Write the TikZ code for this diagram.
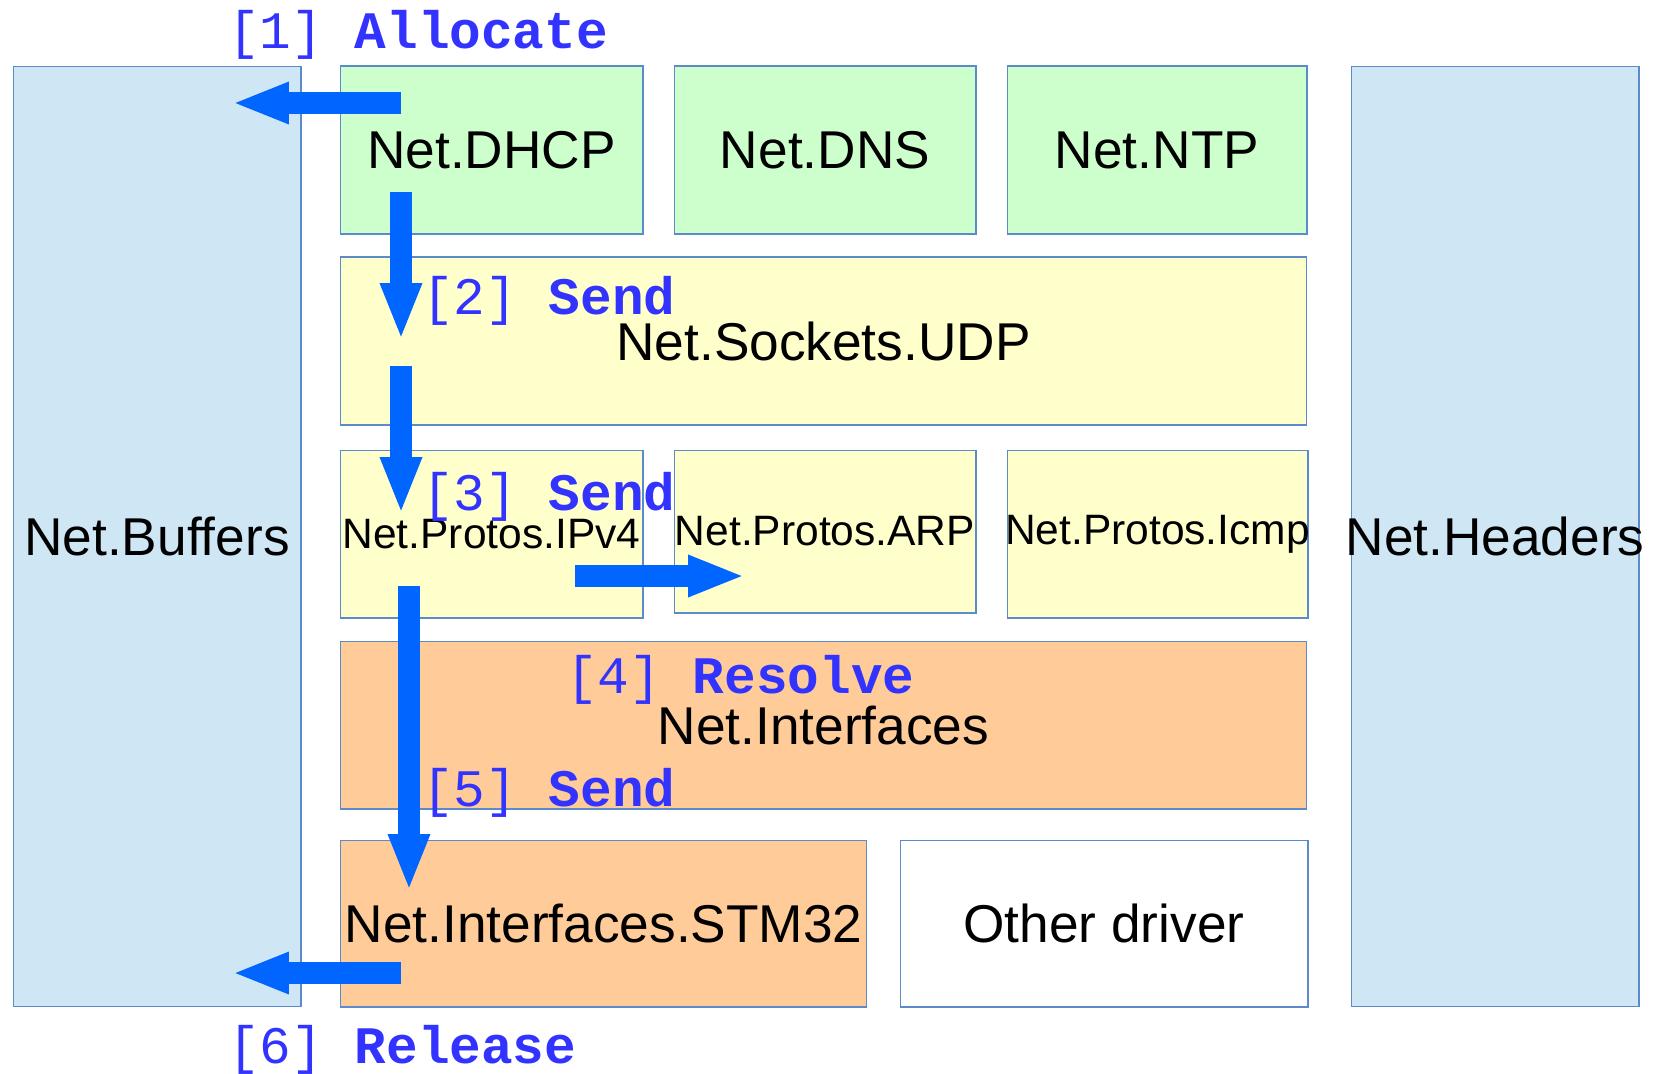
\documentclass[tikz,border=0pt]{standalone}
\usepackage{fontspec}
\setmainfont{Liberation Sans}
\newfontfamily\stepfont{Liberation Mono}
\usetikzlibrary{arrows.meta, positioning}
\definecolor{bufc}{HTML}{CFE7F5}
\definecolor{appc}{HTML}{CCFFCC}
\definecolor{protoc}{HTML}{FFFFCC}
\definecolor{ifacec}{HTML}{FFCC99}
\definecolor{edgec}{HTML}{5B8BCB}
\definecolor{flowc}{HTML}{0066FF}
\definecolor{stepc}{HTML}{3333FF}

\begin{document}
\begin{tikzpicture}[x=0.02cm, y=-0.02cm,
  box/.style={rectangle, draw=edgec, line width=0.6pt, inner sep=0pt,
              font=\fontsize{30.3}{36}\selectfont},
  small/.style={font=\fontsize{24.2}{29}\selectfont},
  flow/.style={flowc, line width=0.44cm,
               -{Triangle[width=0.76cm, length=1.14cm]}},
  steplbl/.style={anchor=base west, inner sep=0pt, text=stepc,
                  font=\fontsize{30}{36}\selectfont\stepfont}]
  \useasboundingbox (0,0) rectangle (1667,1073);
  % side columns
  \node[box, fill=bufc, minimum width=5.76cm, minimum height=18.82cm]
    (buffers) at (157,536.5) {Net.Buffers};
  \node[box, fill=bufc, minimum width=5.76cm, minimum height=18.82cm]
    (headers) at (1495,536.5) {\makebox[0pt]{Net.Headers}};
  % applications
  \node[box, fill=appc, minimum width=6.06cm, minimum height=3.36cm]
    (dhcp) at (491.5,150) {Net.DHCP};
  \node[box, fill=appc, minimum width=6.04cm, minimum height=3.36cm]
    (dns) at (825,150) {Net.DNS};
  \node[box, fill=appc, minimum width=6.0cm, minimum height=3.36cm]
    (ntp) at (1157,150) {Net.NTP};
  % sockets and protocols
  \node[box, fill=protoc, minimum width=19.34cm, minimum height=3.36cm]
    (udp) at (823.5,341) {Net.Sockets.UDP};
  \node[box, small, fill=protoc, minimum width=6.06cm, minimum height=3.36cm]
    (ipv4) at (491.5,534) {Net.Protos.IPv4};
  \node[box, small, fill=protoc, minimum width=6.04cm, minimum height=3.26cm]
    (arp) at (825,531.5) {Net.Protos.ARP};
  \node[box, small, fill=protoc, minimum width=6.02cm, minimum height=3.36cm]
    (icmp) at (1157.5,534) {\makebox[0pt]{Net.Protos.Icmp}};
  % interfaces
  \node[box, fill=ifacec, minimum width=19.34cm, minimum height=3.36cm]
    (ifaces) at (823.5,725) {Net.Interfaces};
  \node[box, fill=ifacec, minimum width=10.54cm, minimum height=3.34cm]
    (stm32) at (603.5,923.5) {Net.Interfaces.STM32};
  \node[box, fill=white, minimum width=8.16cm, minimum height=3.34cm]
    (other) at (1104,923.5) {Other driver};
  % flow of a packet
  \coordinate (allocS) at (401,103);  \coordinate (allocE) at (232,103);
  \coordinate (udpS) at (401,192);    \coordinate (udpE) at (401,340);
  \coordinate (ipS) at (401,366);     \coordinate (ipE) at (401,514);
  \coordinate (arpS) at (575,576);    \coordinate (arpE) at (745,576);
  \coordinate (drvS) at (409,586);    \coordinate (drvE) at (409,891);
  \coordinate (relS) at (401,973);    \coordinate (relE) at (232,973);
  \draw[flow] (allocS) -- (allocE);
  \draw[flow] (udpS) -- (udpE);
  \draw[flow] (ipS) -- (ipE);
  \draw[flow] (arpS) -- (arpE);
  \draw[flow] (drvS) -- (drvE);
  \draw[flow] (relS) -- (relE);
  % steps
  \node[steplbl] (s1) at (228,48) {[1] \textbf{Allocate}};
  \node[steplbl] (s2) at (422,314) {[2] \textbf{Send}};
  \node[steplbl] (s3) at (422,510) {[3] \textbf{Send}};
  \node[steplbl] (s4) at (566,693) {[4] \textbf{Resolve}};
  \node[steplbl] (s5) at (422,806) {[5] \textbf{Send}};
  \node[steplbl] (s6) at (228,1063) {[6] \textbf{Release}};
\end{tikzpicture}
\end{document}
